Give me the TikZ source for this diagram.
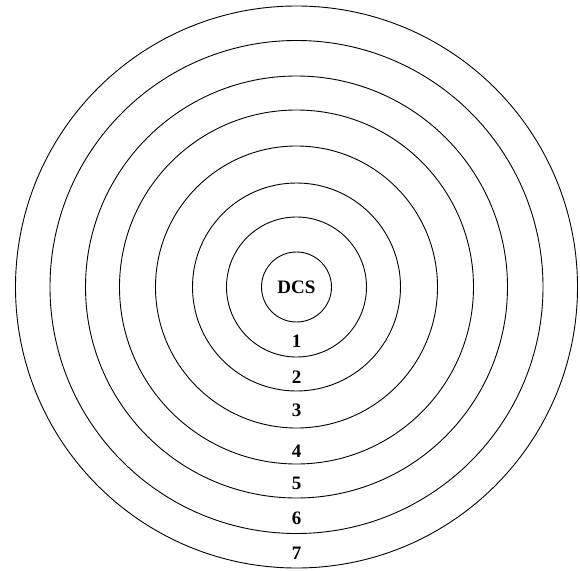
\documentclass[tikz,border=0pt]{standalone}
\usepackage{fontspec}
\setmainfont{Liberation Serif}
\usetikzlibrary{positioning}
\tikzset{
  ring/.style={circle, draw, line width=0.9pt, inner sep=0pt},
  ringlabel/.style={font=\fontsize{19}{20}\selectfont\bfseries, inner sep=0pt},
}
\begin{document}
\begin{tikzpicture}[x=1pt, y=1pt]
  \useasboundingbox (-296.5,-283) rectangle (283.5,287);
  \coordinate (ctr) at (0,0);
  % rings with their numbers, outer to inner
  \foreach \r/\lab/\d in {281/7/266, 246.5/6/231, 211/5/196, 177/4/164.5,
                          141/3/123, 104/2/90, 70/1/54.5}{
    \node[ring, minimum size=2*\r pt] (ring\lab) at (ctr) {};
    \node[ringlabel] (lab\lab) at ([yshift=-\d pt]ctr) {\lab};
  }
  \node[ring, ringlabel, minimum size=70pt] (dcs) at (ctr) {DCS};
\end{tikzpicture}
\end{document}
